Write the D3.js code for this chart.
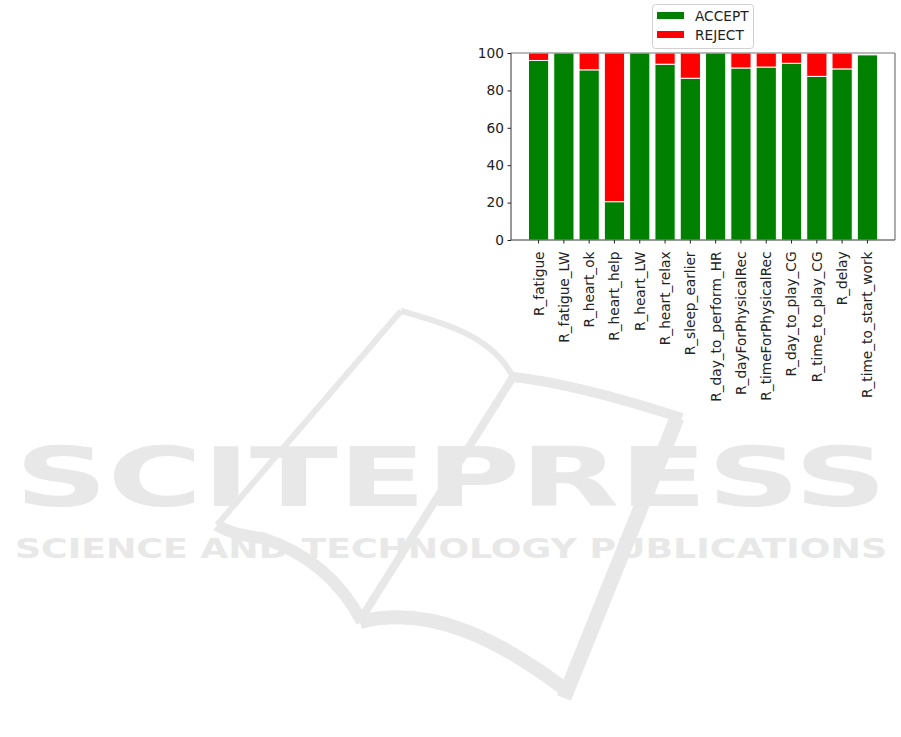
<!DOCTYPE html>
<html>
<head>
<meta charset="utf-8">
<script src="https://cdn.jsdelivr.net/npm/d3@7/dist/d3.min.js"></script>
<style>
  html, body { margin: 0; padding: 0; background: #fff; }
  svg { display: block; }
</style>
</head>
<body>
<svg id="chart" width="901" height="737"></svg>
<script>
// ---- data ----
const categories = [
  "R_fatigue", "R_fatigue_LW", "R_heart_ok", "R_heart_help", "R_heart_LW",
  "R_heart_relax", "R_sleep_earlier", "R_day_to_perform_HR", "R_dayForPhysicalRec",
  "R_timeForPhysicalRec", "R_day_to_play_CG", "R_time_to_play_CG", "R_delay",
  "R_time_to_start_work"
];
const acceptValues = [96, 100, 91, 20.5, 100, 94, 86.5, 100, 92, 92.5, 94.5, 87.5, 91.5, 99];
const rejectValues = [4, 0, 9, 79.5, 0, 6, 13.5, 0, 8, 7.5, 5.5, 12.5, 8.5, 0];
const seriesNames = ["ACCEPT", "REJECT"];
const yTicks = [0, 20, 40, 60, 80, 100];

// ---- layout ----
const svg = d3.select("#chart");
const pLeft = 511, pRight = 895, pTop = 53, pBottom = 240;
const fontFamily = "'DejaVu Sans', sans-serif";
const fs = 13.7;
const colors = { ACCEPT: "#008000", REJECT: "#ff0000" };

// ---- watermark (background) ----
const wmColor = "#e7e8e7";
const wm = svg.append("g").attr("fill", "none").attr("stroke", wmColor)
  .attr("stroke-linecap", "butt").attr("stroke-linejoin", "round");
wm.append("path").attr("stroke-width", 6).attr("d", "M217,525 L401,311");
wm.append("path").attr("stroke-width", 6).attr("d", "M401,311 C440,322 492,335 513,377");
wm.append("path").attr("stroke-width", 10).attr("d", "M513,377 C560,382 620,398 682,418");
wm.append("path").attr("stroke-width", 8).attr("d", "M513,377 L364,614");
wm.append("path").attr("stroke-width", 15).attr("d", "M677,418 L564,698");
wm.append("path").attr("stroke-width", 12).attr("d", "M217,525 Q232,535 262,538 Q330,560 362,622");
wm.append("path").attr("stroke-width", 14).attr("d", "M360,622 C430,604 500,640 566,690");
svg.append("text").text("SCITEPRESS")
  .attr("x", 15).attr("y", 506).attr("textLength", 872).attr("lengthAdjust", "spacingAndGlyphs")
  .attr("font-family", fontFamily).attr("font-weight", "bold").attr("font-size", 82)
  .attr("fill", wmColor);
svg.append("text").text("SCIENCE AND TECHNOLOGY PUBLICATIONS")
  .attr("x", 15).attr("y", 558).attr("textLength", 872).attr("lengthAdjust", "spacingAndGlyphs")
  .attr("font-family", fontFamily).attr("font-weight", "bold").attr("font-size", 27)
  .attr("fill", wmColor);

// ---- scales ----
const x = d3.scaleBand().domain(categories).range([pLeft, pRight])
  .paddingInner(0.2).paddingOuter(0.69);
const y = d3.scaleLinear().domain([0, 100]).range([pBottom, pTop]);

// ---- plot background ----
svg.append("rect").attr("x", pLeft).attr("y", pTop)
  .attr("width", pRight - pLeft).attr("height", pBottom - pTop).attr("fill", "#fff");

// ---- bars ----
const stackData = categories.map((c, i) => ({ cat: c, ACCEPT: acceptValues[i], REJECT: rejectValues[i] }));
const stacked = d3.stack().keys(seriesNames)(stackData);
svg.append("g").selectAll("g").data(stacked).join("g")
  .attr("fill", d => colors[d.key])
  .selectAll("rect").data(d => d.filter(p => p[1] - p[0] > 0)).join("rect")
  .attr("x", d => x(d.data.cat))
  .attr("width", x.bandwidth())
  .attr("y", d => y(d[1]))
  .attr("height", d => y(d[0]) - y(d[1]))
  .attr("stroke", "#fff").attr("stroke-width", 1);

// ---- axes ----
const yAxis = svg.append("g").attr("transform", `translate(${pLeft},0)`)
  .call(d3.axisLeft(y).tickValues(yTicks).tickSize(3.5).tickPadding(3.5));
yAxis.select(".domain").remove();
yAxis.selectAll("text").attr("font-family", fontFamily).attr("font-size", fs).attr("fill", "#222");
yAxis.selectAll("line").attr("stroke", "#222");

const xAxis = svg.append("g").attr("transform", `translate(0,${pBottom})`)
  .call(d3.axisBottom(x).tickSize(3.5).tickPadding(3.5));
xAxis.select(".domain").remove();
xAxis.selectAll("line").attr("stroke", "#222");
xAxis.selectAll("text")
  .attr("font-family", fontFamily).attr("font-size", fs).attr("fill", "#222")
  .attr("text-anchor", "end")
  .attr("transform", "translate(0,11.5) rotate(-90)")
  .attr("x", 0).attr("y", 0).attr("dy", "0.36em");

// ---- spines ----
const sp = svg.append("g").attr("fill", "none");
sp.append("line").attr("x1", pLeft).attr("x2", pRight).attr("y1", pTop).attr("y2", pTop).attr("stroke", "#777").attr("stroke-width", 1.2);
sp.append("line").attr("x1", pRight).attr("x2", pRight).attr("y1", pTop).attr("y2", pBottom).attr("stroke", "#777").attr("stroke-width", 1.2);
sp.append("line").attr("x1", pLeft).attr("x2", pLeft).attr("y1", pTop).attr("y2", pBottom).attr("stroke", "#333").attr("stroke-width", 1);
sp.append("line").attr("x1", pLeft).attr("x2", pRight).attr("y1", pBottom).attr("y2", pBottom).attr("stroke", "#333").attr("stroke-width", 1);

// ---- legend ----
const lg = svg.append("g");
lg.append("rect").attr("x", 652.5).attr("y", 4.5).attr("width", 101).attr("height", 44)
  .attr("rx", 3).attr("fill", "#fff").attr("stroke", "#d0d0d0");
seriesNames.forEach((name, i) => {
  const yy = 12 + i * 19;
  lg.append("rect").attr("x", 657).attr("y", yy).attr("width", 27).attr("height", 7)
    .attr("fill", colors[name]);
  lg.append("text").text(name).attr("x", 695).attr("y", yy + 8.5)
    .attr("font-family", fontFamily).attr("font-size", fs).attr("fill", "#222");
});
</script>
</body>
</html>
